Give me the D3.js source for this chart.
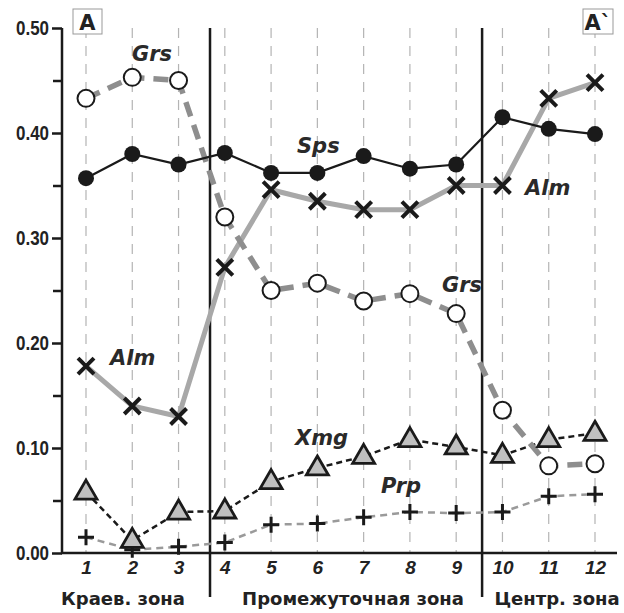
<!DOCTYPE html>
<html>
<head>
<meta charset="utf-8">
<script src="https://cdn.jsdelivr.net/npm/d3@7"></script>
<style>
  body { margin: 0; background: #fff; }
  svg text { font-family: "Liberation Sans", Arial, sans-serif; }
</style>
</head>
<body>
<svg id="chart" width="624" height="613"></svg>
<script>
// sample positions along the profile A - A`
const samples = [1, 2, 3, 4, 5, 6, 7, 8, 9, 10, 11, 12]
const grs = [0.433, 0.453, 0.450, 0.320, 0.250, 0.257, 0.240, 0.247, 0.228, 0.136, 0.083, 0.085]
const sps = [0.357, 0.380, 0.370, 0.381, 0.362, 0.362, 0.378, 0.366, 0.370, 0.415, 0.404, 0.399]
const alm = [0.178, 0.140, 0.130, 0.272, 0.346, 0.335, 0.327, 0.327, 0.350, 0.350, 0.433, 0.448]
const xmg = [0.058, 0.012, 0.039, 0.040, 0.068, 0.081, 0.092, 0.108, 0.101, 0.093, 0.108, 0.114]
const prp = [0.015, 0.003, 0.006, 0.010, 0.027, 0.028, 0.034, 0.039, 0.038, 0.039, 0.054, 0.056]
const yTicks = [0, 0.1, 0.2, 0.3, 0.4, 0.5]
const yMinor = [0.05, 0.15, 0.25, 0.35, 0.45]
const zoneNames = ["Краев. зона", "Промежуточная зона", "Центр. зона"]
const dividers = [3.68, 9.56]

const svg = d3.select("#chart")
const x = d3.scaleLinear().domain([1, 12]).range([86, 595])
const y = d3.scaleLinear().domain([0, 0.5]).range([553, 28])

// dashed guides at every sample
svg.append("g").selectAll("line").data(samples).join("line")
    .attr("x1", d => x(d)).attr("x2", d => x(d))
    .attr("y1", y(0.5)).attr("y2", y(0))
    .attr("stroke", "#b4b4b4").attr("stroke-width", 1.2)
    .attr("stroke-dasharray", "10,8")

// zone borders
svg.append("g").selectAll("line").data(dividers).join("line")
    .attr("x1", d => x(d)).attr("x2", d => x(d))
    .attr("y1", y(0.5)).attr("y2", 597)
    .attr("stroke", "#1a1a1a").attr("stroke-width", 2.5)

// y axis
const yAxis = svg.append("g").attr("transform", "translate(62,0)")
    .call(d3.axisLeft(y).tickValues(yTicks).tickFormat(d3.format(".2f")).tickSize(10).tickPadding(3))
yAxis.select(".domain").attr("stroke", "#1a1a1a").attr("stroke-width", 2.5).attr("d", `M0,${y(0.5)}V${y(0)}`)
yAxis.selectAll(".tick line").attr("stroke", "#1a1a1a").attr("stroke-width", 2.5)
// the labels are narrow: squeeze them to the width seen in the picture
yAxis.selectAll("text")
    .attr("font-size", 20).attr("font-weight", "bold").attr("fill", "#222")
    .attr("textLength", 33).attr("lengthAdjust", "spacingAndGlyphs")
const yAxisMinor = svg.append("g").attr("transform", "translate(62,0)")
    .call(d3.axisLeft(y).tickValues(yMinor).tickFormat("").tickSize(9))
yAxisMinor.select(".domain").remove()
yAxisMinor.selectAll(".tick line").attr("stroke", "#1a1a1a").attr("stroke-width", 2.5)

// x axis
svg.append("line").attr("x1", 61).attr("x2", 617).attr("y1", y(0)).attr("y2", y(0))
    .attr("stroke", "#1a1a1a").attr("stroke-width", 2.5)
const xAxis = svg.append("g").attr("transform", `translate(0,${y(0)})`)
    .call(d3.axisBottom(x).tickValues(samples).tickFormat(d3.format("d")).tickSize(0).tickPadding(8))
xAxis.select(".domain").remove()
xAxis.selectAll("text").attr("font-size", 19).attr("font-weight", "bold")
    .attr("font-style", "italic").attr("fill", "#222")

const zoneX = [123, 353, 557]
svg.append("g").selectAll("text").data(zoneNames).join("text")
    .attr("x", (d, i) => zoneX[i])
    .attr("y", 605)
    .attr("text-anchor", "middle")
    .style("font-family", "'DejaVu Sans', sans-serif")
    .attr("font-size", 18).attr("font-weight", "bold").attr("fill", "#222")
    .text(d => d)

// section end boxes
const ends = [{label: "A", x: 73, w: 29}, {label: "A`", x: 583, w: 30}]
const endG = svg.append("g").selectAll("g").data(ends).join("g")
endG.append("rect").attr("x", d => d.x).attr("y", 9).attr("width", d => d.w).attr("height", 25)
    .attr("fill", "#fff").attr("stroke", "#999").attr("stroke-width", 1)
endG.append("text").attr("x", d => d.x + d.w / 2).attr("y", 30)
    .attr("text-anchor", "middle")
    .style("font-family", "'DejaVu Sans', sans-serif")
    .attr("font-size", 21).attr("font-weight", "bold").attr("fill", "#222")
    .text(d => d.label)

const line = d3.line().x((d, i) => x(samples[i])).y(d => y(d))

function drawLine(values, color, width, dash){
  svg.append("path").datum(values)
      .attr("d", line)
      .attr("fill", "none")
      .attr("stroke", color)
      .attr("stroke-width", width)
      .attr("stroke-dasharray", dash)
}

drawLine(prp, "#9a9a9a", 2.5, "7,5")
drawLine(xmg, "#1a1a1a", 2.5, "6,4")
drawLine(alm, "#a8a8a8", 5, null)
drawLine(grs, "#8e8e8e", 5.5, "15,9")
drawLine(sps, "#1a1a1a", 2.2, null)

// markers
const pts = values => values.map((v, i) => [x(samples[i]), y(v)])

svg.append("g").selectAll("path").data(pts(prp)).join("path")
    .attr("d", d => `M${d[0]-8},${d[1]}H${d[0]+8}M${d[0]},${d[1]-8}V${d[1]+8}`)
    .attr("stroke", "#1a1a1a").attr("stroke-width", 3)

svg.append("g").selectAll("path").data(pts(xmg)).join("path")
    .attr("d", d => `M${d[0]},${d[1]-12}L${d[0]+11},${d[1]+7}L${d[0]-11},${d[1]+7}Z`)
    .attr("fill", "#c0c0c0").attr("stroke", "#1a1a1a").attr("stroke-width", 2.8)
    .attr("stroke-linejoin", "miter")

svg.append("g").selectAll("path").data(pts(alm)).join("path")
    .attr("d", d => `M${d[0]-8},${d[1]-8}L${d[0]+8},${d[1]+8}M${d[0]-8},${d[1]+8}L${d[0]+8},${d[1]-8}`)
    .attr("stroke", "#1a1a1a").attr("stroke-width", 4)

svg.append("g").selectAll("circle").data(pts(grs)).join("circle")
    .attr("cx", d => d[0]).attr("cy", d => d[1]).attr("r", 8.5)
    .attr("fill", "#fff").attr("stroke", "#1a1a1a").attr("stroke-width", 2)

svg.append("g").selectAll("circle").data(pts(sps)).join("circle")
    .attr("cx", d => d[0]).attr("cy", d => d[1]).attr("r", 8)
    .attr("fill", "#1a1a1a")

// series names
const names = [
  {t: "Grs", x: 132, y: 61},
  {t: "Sps", x: 297, y: 153},
  {t: "Alm", x: 525, y: 195},
  {t: "Alm", x: 110, y: 365},
  {t: "Grs", x: 442, y: 292},
  {t: "Xmg", x: 295, y: 445},
  {t: "Prp", x: 381, y: 493}
]
svg.append("g").selectAll("text").data(names).join("text")
    .attr("x", d => d.x).attr("y", d => d.y)
    .style("font-family", "'DejaVu Sans', sans-serif")
    .attr("font-size", 21).attr("font-weight", "bold").attr("font-style", "italic")
    .attr("fill", "#2a2a2a")
    .text(d => d.t)
</script>
</body>
</html>
